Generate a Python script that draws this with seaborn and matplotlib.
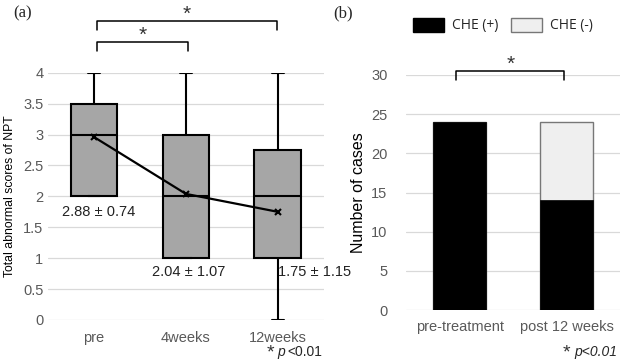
import matplotlib
matplotlib.use("Agg")
import matplotlib.pyplot as plt
from matplotlib.patches import Patch
import seaborn as sns
import pandas as pd

# (a) box plot, five-number summary: min, q1, median, q3, max
groups = ["pre", "4weeks", "12weeks"]
pre_box = [2, 2, 3, 3.5, 4]
w4_box = [1, 1, 2, 3, 4]
w12_box = [0, 1, 2, 2.75, 4]
means = [2.96, 2.04, 1.75]
mean_labels = ["2.88 ± 0.74", "2.04 ± 1.07", "1.75 ± 1.15"]

# (b) stacked bars
periods = ["pre-treatment", "post 12 weeks"]
che_pos = [24, 14]
che_neg = [0, 10]

sns.set_theme(style="white")
plt.rcParams['font.family'] = ['Liberation Sans', 'DejaVu Sans']

fig = plt.figure(figsize=(6.25, 3.64), dpi=100)
ax1 = fig.add_axes([0.077, 0.121, 0.441, 0.679])
ax2 = fig.add_axes([0.650, 0.148, 0.342, 0.646])

tick_col = "#595959"
grid_col = "#d9d9d9"

# ---- panel (a) ----
df = pd.DataFrame({
    "group": [g for g, b in zip(groups, [pre_box, w4_box, w12_box]) for _ in b],
    "score": pre_box + w4_box + w12_box,
})
sns.boxplot(data=df, x="group", y="score", order=groups, ax=ax1,
            whis=(0, 100), width=0.51, color="#a6a6a6", saturation=1,
            linecolor="black", linewidth=1.5, capwidths=0.13)
sns.lineplot(x=[0, 1, 2], y=means, ax=ax1, color="black", lw=1.6,
             marker="x", markersize=5, markeredgewidth=1.5,
             markeredgecolor="black", zorder=6)

ax1.set_xlim(-0.5, 2.5)
ax1.set_ylim(0, 4)
ax1.set_yticks([0, 0.5, 1, 1.5, 2, 2.5, 3, 3.5, 4])
ax1.set_yticklabels(["0", "0.5", "1", "1.5", "2", "2.5", "3", "3.5", "4"])
ax1.yaxis.grid(True, color=grid_col, lw=0.9)
ax1.set_axisbelow(True)
for s in ax1.spines.values():
    s.set_visible(False)
ax1.tick_params(length=0, labelsize=10.5, labelcolor=tick_col, pad=3.5)
ax1.tick_params(axis="x", pad=8)
ax1.set_xlabel("")
ax1.set_ylabel("Total abnormal scores of NPT", fontsize=8.8, color="black", labelpad=5)

label_pos = [(0.05, 1.74), (1.03, 0.77), (2.0, 0.78)]
for (lx, ly), txt, ha in zip(label_pos, mean_labels, ["center", "center", "left"]):
    ax1.text(lx, ly, txt, ha=ha, va="center", fontsize=10.5, color="#222222", clip_on=False)

# significance brackets
def bracket(ax, x0, x1, y, h, star_y, fs=15):
    ax.plot([x0, x0, x1, x1], [y - h, y, y, y - h], color="black", lw=1.1, clip_on=False)
    ax.text((x0 + x1) / 2, star_y, "*", ha="center", va="center", fontsize=fs,
            color="#333333", clip_on=False)

bracket(ax1, 0.03, 1.02, 4.50, 0.15, 4.60)
bracket(ax1, 0.03, 1.99, 4.84, 0.15, 4.94)

fig.text(0.022, 0.962, "(a)", fontsize=12, family="Liberation Serif", va="center")
fig.text(0.439, 0.030, "*", fontsize=14, ha="right", va="center", color="#333333")
fig.text(0.444, 0.033, "p", fontsize=10, style="italic", va="center")
fig.text(0.459, 0.033, "<0.01", fontsize=10, va="center")

# ---- panel (b) ----
totals = [p + n for p, n in zip(che_pos, che_neg)]
sns.barplot(x=periods, y=totals, ax=ax2, color="#efefef", saturation=1,
            edgecolor="#777777", linewidth=1.0, width=0.5)
sns.barplot(x=periods, y=che_pos, ax=ax2, color="black", saturation=1,
            edgecolor="black", linewidth=0.5, width=0.5)
ax2.set_xlim(-0.5, 1.5)
ax2.set_ylim(0, 30)
ax2.set_yticks(range(0, 31, 5))
ax2.yaxis.grid(True, color=grid_col, lw=0.9)
ax2.set_axisbelow(True)
for s in ax2.spines.values():
    s.set_visible(False)
ax2.tick_params(length=0, labelsize=10.5, labelcolor=tick_col, pad=13.5)
ax2.tick_params(axis="x", pad=7)
ax2.set_ylabel("Number of cases", fontsize=11.5, color="black", labelpad=4)

bracket(ax2, -0.03, 0.98, 30.5, 1.1, 31.4)

fig.text(0.912, 0.030, "*", fontsize=14, ha="right", va="center", color="#333333")
fig.text(0.533, 0.962, "(b)", fontsize=12, family="Liberation Serif", va="center")
fig.text(0.988, 0.033, "p<0.01", fontsize=10, style="italic", ha="right", va="center")

handles = [Patch(facecolor="black", edgecolor="black", label="CHE (+)"),
           Patch(facecolor="#efefef", edgecolor="#777777", label="CHE (-)")]
fig.legend(handles=handles, loc="center", bbox_to_anchor=(0.805, 0.93), ncol=2,
           frameon=False, handlelength=2.2, handleheight=1.2,
           columnspacing=0.9, handletextpad=0.6,
           prop={"family": "Open Sans", "size": 10})

fig.savefig("out.png", dpi=100)
